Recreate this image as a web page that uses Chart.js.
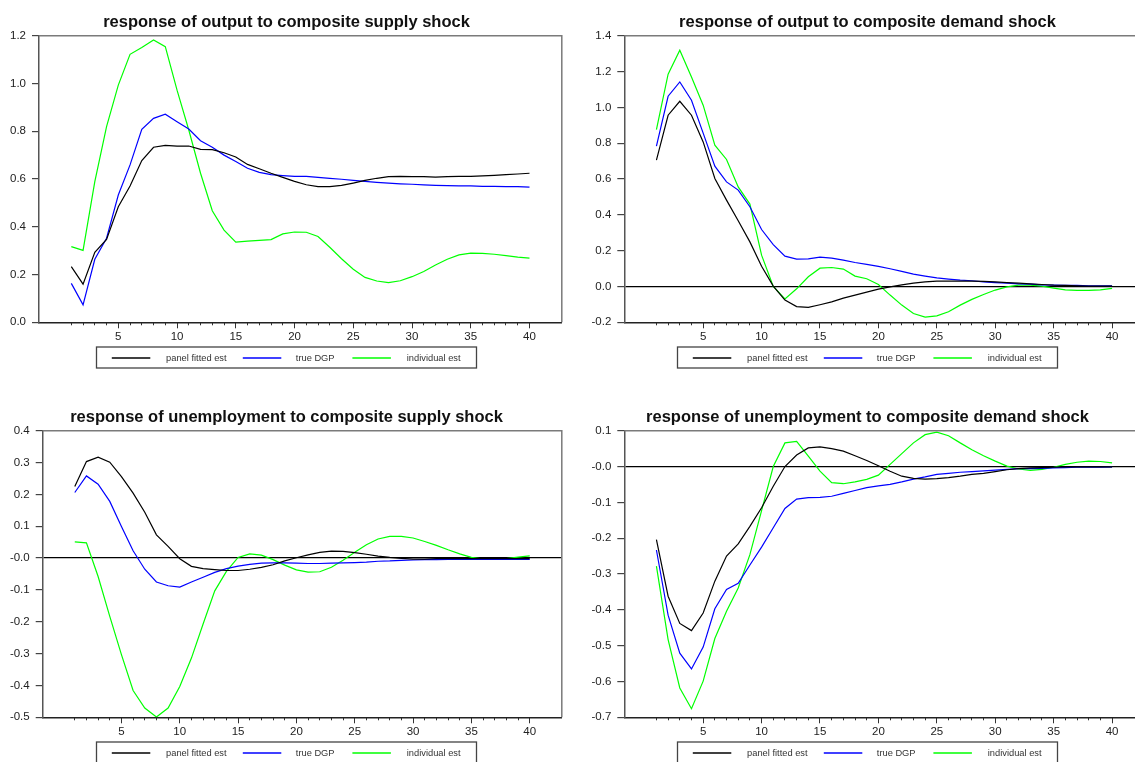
<!DOCTYPE html>
<html><head><meta charset="utf-8">
<script src="https://cdn.jsdelivr.net/npm/chart.js@4/dist/chart.umd.min.js"></script>
<style>
html,body{margin:0;padding:0;background:#fff;overflow:hidden;width:1135px;height:762px;position:relative;}
canvas{position:absolute;display:block;}
</style></head><body>
<canvas id="c1" width="573" height="381" style="left:0;top:0"></canvas>
<canvas id="c2" width="573" height="381" style="left:581px;top:0"></canvas>
<canvas id="c3" width="573" height="367" style="left:0;top:395px"></canvas>
<canvas id="c4" width="573" height="367" style="left:581px;top:395px"></canvas>
<script>
const horizons = [1,2,3,4,5,6,7,8,9,10,11,12,13,14,15,16,17,18,19,20,21,22,23,24,25,26,27,28,29,30,31,32,33,34,35,36,37,38,39,40];
const xMajorTicks = [5,10,15,20,25,30,35,40];
const seriesLabels = ['panel fitted est','true DGP','individual est'];
const titles = ['response of output to composite supply shock','response of output to composite demand shock','response of unemployment to composite supply shock','response of unemployment to composite demand shock'];

const outSupplyPanel = [0.233,0.160,0.293,0.347,0.484,0.571,0.677,0.733,0.741,0.738,0.738,0.724,0.723,0.710,0.692,0.661,0.643,0.624,0.607,0.590,0.576,0.568,0.568,0.573,0.583,0.594,0.603,0.610,0.611,0.610,0.610,0.608,0.610,0.611,0.611,0.613,0.615,0.618,0.621,0.624];
const outSupplyTrue = [0.163,0.073,0.264,0.352,0.533,0.659,0.808,0.854,0.871,0.840,0.809,0.760,0.733,0.700,0.673,0.645,0.628,0.618,0.614,0.611,0.611,0.607,0.603,0.599,0.594,0.590,0.586,0.583,0.580,0.578,0.575,0.573,0.572,0.571,0.571,0.569,0.569,0.568,0.568,0.566];
const outSupplyIndiv = [0.317,0.301,0.589,0.819,0.993,1.122,1.151,1.182,1.154,0.972,0.805,0.624,0.467,0.386,0.336,0.340,0.343,0.346,0.370,0.378,0.377,0.359,0.314,0.266,0.222,0.188,0.173,0.166,0.174,0.191,0.213,0.240,0.264,0.282,0.290,0.289,0.285,0.279,0.273,0.269];

const outDemandPanel = [0.705,0.956,1.034,0.956,0.807,0.603,0.482,0.367,0.249,0.113,0.002,-0.076,-0.112,-0.117,-0.102,-0.086,-0.065,-0.048,-0.032,-0.015,-0.002,0.009,0.019,0.026,0.030,0.030,0.030,0.030,0.028,0.026,0.022,0.019,0.015,0.011,0.007,0.006,0.004,0.002,0.002,0.002];
const outDemandTrue = [0.783,1.062,1.142,1.040,0.856,0.672,0.584,0.538,0.445,0.318,0.234,0.169,0.153,0.154,0.164,0.158,0.147,0.134,0.123,0.112,0.099,0.084,0.069,0.058,0.048,0.041,0.035,0.032,0.026,0.022,0.019,0.015,0.013,0.009,0.007,0.006,0.006,0.004,0.004,0.004];
const outDemandIndiv = [0.876,1.185,1.319,1.170,1.012,0.789,0.709,0.556,0.460,0.175,0.000,-0.069,-0.013,0.054,0.102,0.106,0.097,0.058,0.043,0.011,-0.048,-0.104,-0.151,-0.171,-0.164,-0.141,-0.104,-0.072,-0.045,-0.020,-0.002,0.007,0.007,0.002,-0.009,-0.019,-0.022,-0.022,-0.019,-0.011];

const unSupplyPanel = [0.225,0.303,0.317,0.301,0.256,0.204,0.144,0.073,0.037,-0.002,-0.026,-0.033,-0.036,-0.039,-0.039,-0.035,-0.029,-0.021,-0.009,0.001,0.010,0.018,0.022,0.021,0.017,0.012,0.006,0.002,-0.001,-0.003,-0.003,-0.002,-0.002,-0.002,-0.002,-0.002,-0.002,-0.002,-0.002,-0.002];
const unSupplyTrue = [0.206,0.258,0.232,0.178,0.099,0.023,-0.035,-0.075,-0.087,-0.091,-0.075,-0.060,-0.045,-0.033,-0.025,-0.020,-0.016,-0.015,-0.015,-0.016,-0.017,-0.017,-0.016,-0.015,-0.014,-0.013,-0.010,-0.009,-0.007,-0.006,-0.005,-0.005,-0.004,-0.004,-0.004,-0.004,-0.004,-0.004,-0.004,-0.004];
const unSupplyIndiv = [0.051,0.048,-0.058,-0.183,-0.303,-0.416,-0.471,-0.499,-0.471,-0.403,-0.314,-0.207,-0.103,-0.042,0.002,0.013,0.009,-0.005,-0.022,-0.037,-0.044,-0.043,-0.029,-0.007,0.018,0.042,0.060,0.068,0.068,0.063,0.052,0.040,0.026,0.013,0.002,-0.003,-0.004,-0.002,0.003,0.007];

const unDemandPanel = [-0.204,-0.362,-0.438,-0.458,-0.409,-0.320,-0.250,-0.216,-0.167,-0.115,-0.055,0.000,0.032,0.052,0.055,0.050,0.043,0.030,0.017,0.002,-0.013,-0.027,-0.033,-0.035,-0.034,-0.031,-0.027,-0.022,-0.019,-0.014,-0.009,-0.006,-0.004,-0.003,-0.002,-0.001,-0.001,-0.001,-0.001,-0.001];
const unDemandTrue = [-0.233,-0.415,-0.521,-0.565,-0.504,-0.397,-0.343,-0.326,-0.275,-0.225,-0.171,-0.117,-0.091,-0.087,-0.086,-0.083,-0.075,-0.067,-0.059,-0.054,-0.050,-0.043,-0.035,-0.029,-0.022,-0.019,-0.016,-0.014,-0.012,-0.010,-0.008,-0.006,-0.006,-0.005,-0.004,-0.003,-0.002,-0.002,-0.002,-0.001];
const unDemandIndiv = [-0.278,-0.483,-0.618,-0.676,-0.599,-0.480,-0.404,-0.339,-0.246,-0.123,0.000,0.066,0.070,0.029,-0.013,-0.045,-0.048,-0.043,-0.036,-0.024,0.006,0.036,0.066,0.089,0.096,0.086,0.066,0.047,0.030,0.015,0.001,-0.007,-0.011,-0.008,-0.002,0.006,0.012,0.015,0.014,0.010];

const yTicksOutSupply = [0.0,0.2,0.4,0.6,0.8,1.0,1.2];
const yLabelsOutSupply = ['0.0','0.2','0.4','0.6','0.8','1.0','1.2'];
const yTicksOutDemand = [-0.2,0.0,0.2,0.4,0.6,0.8,1.0,1.2,1.4];
const yLabelsOutDemand = ['-0.2','0.0','0.2','0.4','0.6','0.8','1.0','1.2','1.4'];
const yTicksUnSupply = [-0.5,-0.4,-0.3,-0.2,-0.1,0.0,0.1,0.2,0.3,0.4];
const yLabelsUnSupply = ['-0.5','-0.4','-0.3','-0.2','-0.1','-0.0','0.1','0.2','0.3','0.4'];
const yTicksUnDemand = [-0.7,-0.6,-0.5,-0.4,-0.3,-0.2,-0.1,0.0,0.1];
const yLabelsUnDemand = ['-0.7','-0.6','-0.5','-0.4','-0.3','-0.2','-0.1','-0.0','0.1'];

const seriesColors = ['#000000','#0000ff','#00ff00'];
const FONT = '"Liberation Sans", Arial, sans-serif';

const decorPlugin = {
  id: 'decor',
  afterDraw(chart, args, opts) {
    const ctx = chart.ctx, a = chart.chartArea, W = chart.width;
    ctx.save();
    // top and right frame
    ctx.strokeStyle = '#7a7a7a'; ctx.lineWidth = 1.5;
    ctx.beginPath();
    ctx.moveTo(a.left, a.top); ctx.lineTo(a.right, a.top); ctx.lineTo(a.right, a.bottom);
    ctx.stroke();
    // title
    ctx.fillStyle = '#111';
    ctx.font = 'bold 16.5px ' + FONT;
    ctx.textAlign = 'center'; ctx.textBaseline = 'middle';
    ctx.fillText(opts.title, W / 2, 22);
    // legend box
    const bx = W / 2 - 190, by = 347, bw = 380, bh = 21;
    ctx.strokeStyle = '#444'; ctx.lineWidth = 1.3;
    ctx.strokeRect(bx, by, bw, bh);
    const offs = [[15.3, 69.6], [146.3, 199.3], [255.9, 310.3]];
    ctx.font = '9.3px ' + FONT; ctx.textAlign = 'left';
    chart.data.datasets.forEach((ds, i) => {
      ctx.strokeStyle = ds.borderColor; ctx.lineWidth = 1.6;
      ctx.beginPath();
      ctx.moveTo(bx + offs[i][0], by + 11); ctx.lineTo(bx + offs[i][0] + 38.5, by + 11);
      ctx.stroke();
      ctx.fillStyle = '#333';
      ctx.fillText(ds.label, bx + offs[i][1], by + bh / 2 + 0.5);
    });
    ctx.restore();
  }
};

function makePanel(id, title, series, yTicks, yLabels, zeroLine, yW, padR, padB) {
  const datasets = series.map((vals, i) => ({
    label: seriesLabels[i],
    data: horizons.map((h, j) => ({x: h, y: vals[j]})),
    borderColor: seriesColors[i],
    backgroundColor: seriesColors[i],
    borderWidth: 1.2, pointRadius: 0, tension: 0, fill: false,
    xAxisID: 'x', yAxisID: 'y'
  }));
  return new Chart(document.getElementById(id), {
    type: 'line',
    data: { datasets },
    plugins: [decorPlugin],
    options: {
      responsive: false, animation: false, devicePixelRatio: 1,
      layout: { padding: { left: 0, right: padR, top: 35.7, bottom: padB } },
      plugins: { legend: { display: false }, title: { display: false }, tooltip: { enabled: false }, decor: { title } },
      scales: {
        x: {
          type: 'linear', position: 'bottom', min: -1.75, max: 42.75, weight: 0,
          afterBuildTicks: s => { s.ticks = horizons.map(v => ({value: v})); },
          ticks: { display: false, autoSkip: false },
          grid: { drawOnChartArea: false, drawTicks: true, tickLength: 3, tickColor: '#333', tickWidth: 1 },
          border: { display: false },
          afterFit: s => { s.height = 0; }
        },
        x2: {
          type: 'linear', position: 'bottom', min: -1.75, max: 42.75, weight: 1,
          afterBuildTicks: s => { s.ticks = xMajorTicks.map(v => ({value: v})); },
          ticks: { autoSkip: false, maxRotation: 0, padding: 2, color: '#222', font: { family: FONT, size: 11.5 }, callback: v => String(v) },
          grid: { drawOnChartArea: false, drawTicks: true, tickLength: 6, tickColor: '#333', tickWidth: 1 },
          border: { display: true, color: '#222', width: 1.5 },
          afterFit: s => { s.height = 20; }
        },
        y: {
          type: 'linear', position: 'left', min: yTicks[0], max: yTicks[yTicks.length - 1],
          afterBuildTicks: s => { s.ticks = yTicks.map(v => ({value: v})); },
          ticks: { autoSkip: false, padding: 6, color: '#222', font: { family: FONT, size: 11.5 }, callback: (v, i) => yLabels[i] },
          grid: {
            drawOnChartArea: true, drawTicks: true, tickLength: 7, tickColor: '#444',
            color: c => (zeroLine && c.tick && Math.abs(c.tick.value) < 1e-9) ? '#000' : 'rgba(0,0,0,0)',
            lineWidth: 1.2
          },
          border: { display: true, color: '#555', width: 1.5 },
          afterFit: s => { s.width = yW; }
        }
      }
    }
  });
}

makePanel('c1', titles[0], [outSupplyPanel, outSupplyTrue, outSupplyIndiv], yTicksOutSupply, yLabelsOutSupply, false, 39, 11.2, 38.7);
makePanel('c2', titles[1], [outDemandPanel, outDemandTrue, outDemandIndiv], yTicksOutDemand, yLabelsOutDemand, true, 43.3, 9.8, 38.7);
makePanel('c3', titles[2], [unSupplyPanel, unSupplyTrue, unSupplyIndiv], yTicksUnSupply, yLabelsUnSupply, true, 42.7, 11.2, 24.7);
makePanel('c4', titles[3], [unDemandPanel, unDemandTrue, unDemandIndiv], yTicksUnDemand, yLabelsUnDemand, true, 43.3, 9.8, 24.7);
</script>
</body></html>
